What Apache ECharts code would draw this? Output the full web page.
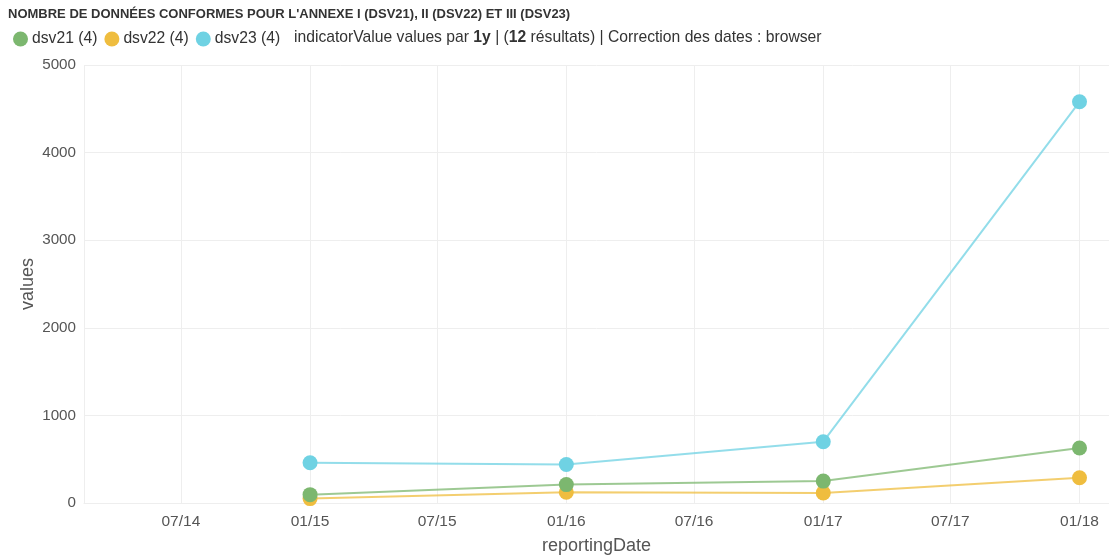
<!DOCTYPE html>
<html>
<head>
<meta charset="utf-8">
<script src="https://cdn.jsdelivr.net/npm/echarts@6/dist/echarts.min.js"></script>
<style>html,body{margin:0;padding:0;background:#fff}#c{width:1109px;height:560px}</style>
</head>
<body>
<div id="c"></div>
<script>
var dates = ['2015-01-01', '2016-01-01', '2017-01-01', '2018-01-01'];
var dsv21 = [95, 210, 250, 628];
var dsv22 = [50, 122, 115, 288];
var dsv23 = [460, 440, 700, 4580];
var seriesNames = ['dsv21 (4)', 'dsv22 (4)', 'dsv23 (4)'];
var colors = ['#7cb76f', '#efbd3f', '#6fd2e3'];
var yTicks = [0, 1000, 2000, 3000, 4000, 5000];

function pairs(vals) { return dates.map(function (d, i) { return [d, vals[i]]; }); }
var allVals = [dsv21, dsv22, dsv23];

var chart = echarts.init(document.getElementById('c'), null, { renderer: 'canvas' });
var font = 'Liberation Sans, Arial, sans-serif';
chart.setOption({
  animation: false,
  textStyle: { fontFamily: font },
  title: {
    text: "NOMBRE DE DONNÉES CONFORMES POUR L'ANNEXE I (DSV21), II (DSV22) ET III (DSV23)",
    left: 8, top: 8, padding: 0,
    textStyle: { fontSize: 13, fontWeight: 'bold', color: '#333', fontFamily: font }
  },
  legend: {
    left: 13, top: 31, padding: 0,
    icon: 'circle', itemWidth: 15, itemHeight: 15, itemGap: 7,
    textStyle: { fontSize: 15.7, color: '#333', fontFamily: font, padding: [0, 0, 0, -1] },
    data: seriesNames
  },
  graphic: [{
    type: 'text', left: 294, top: 30,
    style: {
      text: 'indicatorValue values par {b|1y} | ({b|12} résultats) | Correction des dates : browser',
      font: '15.7px ' + font, fill: '#333',
      rich: { b: { fontWeight: 'bold', fontSize: 15.7, fontFamily: font, fill: '#333' } }
    }
  }],
  grid: { left: 84, right: 0, top: 65, bottom: 56, containLabel: false },
  xAxis: {
    type: 'time',
    min: '2014-02-13', max: '2018-02-12',
    name: 'reportingDate', nameLocation: 'middle', nameGap: 34, nameMoveOverlap: false,
    nameTextStyle: { fontSize: 18, color: '#555' },
    minInterval: 181 * 86400000, maxInterval: 184 * 86400000,
    axisLine: { show: true, lineStyle: { color: '#eee' } },
    axisTick: { show: false },
    axisLabel: { color: '#555', fontSize: 15.5, formatter: '{MM}/{yy}', showMinLabel: false, showMaxLabel: false, margin: 11 },
    splitLine: { show: true, lineStyle: { color: '#eee' } }
  },
  yAxis: {
    type: 'value', min: yTicks[0], max: yTicks[yTicks.length - 1], interval: 1000,
    name: 'values', nameLocation: 'middle', nameGap: 47, nameMoveOverlap: false,
    nameTextStyle: { fontSize: 18, color: '#555' },
    axisLine: { show: false }, axisTick: { show: false },
    axisLabel: { color: '#555', fontSize: 15.2, margin: 8, formatter: function (v) { return String(v); } },
    splitLine: { lineStyle: { color: '#eee' } }
  },
  series: seriesNames.map(function (n, i) {
    return {
      name: n, type: 'line', data: pairs(allVals[i]),
      symbol: 'circle', symbolSize: 15, showSymbol: true,
      itemStyle: { color: colors[i] },
      lineStyle: { width: 2, color: colors[i], opacity: 0.75 },
      z: 3 - i
    };
  })
});
</script>
</body>
</html>
